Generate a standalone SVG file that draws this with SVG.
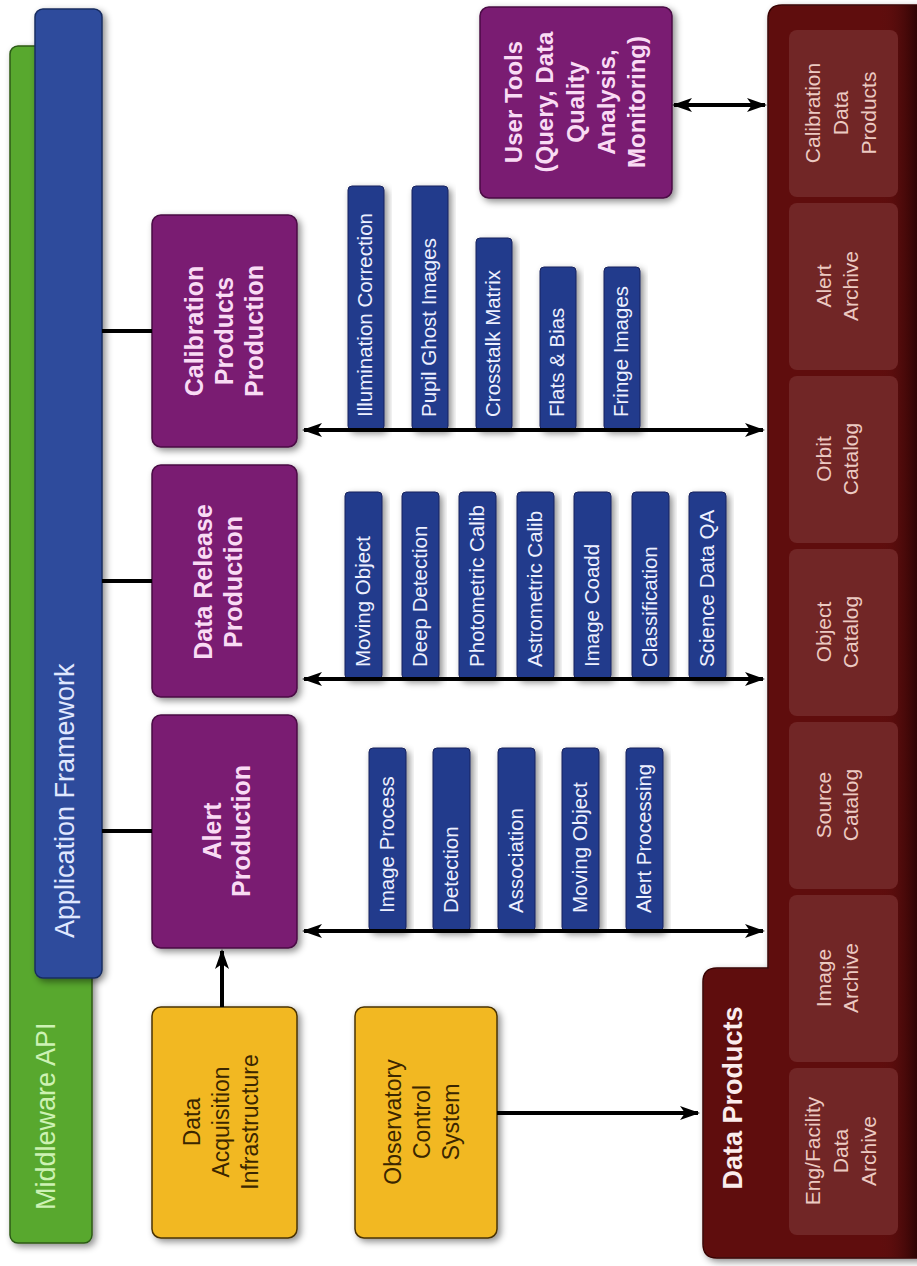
<svg xmlns="http://www.w3.org/2000/svg" width="917" height="1266" viewBox="0 0 917 1266">
<defs>
<filter id="sh" x="-20%" y="-20%" width="140%" height="140%">
<feDropShadow dx="3" dy="3" stdDeviation="3.5" flood-color="#000" flood-opacity="0.45"/>
</filter>
<marker id="ah" viewBox="0 0 20 14" refX="18" refY="7" markerWidth="20" markerHeight="14" markerUnits="userSpaceOnUse" orient="auto-start-reverse">
<path d="M0,0 L20,7 L0,14 L5,7 Z" fill="#000"/>
</marker>
<linearGradient id="edge" x1="0" y1="0" x2="1" y2="0">
<stop offset="0" stop-color="#5f1111" stop-opacity="0"/>
<stop offset="1" stop-color="#2e0303" stop-opacity="1"/>
</linearGradient>
</defs>
<style>
text{font-family:"Liberation Sans",Arial,sans-serif}
.purple{fill:#7a1a72;stroke:#4a0a44;stroke-width:1.5;filter:url(#sh)}
.ptxt{fill:#f9dbf4;font-size:25px;font-weight:bold}
.bar{fill:#243a8c;stroke:#16245e;stroke-width:1;filter:url(#sh)}
.btxt{fill:#edf0ff;font-size:20.5px}
.yel{fill:#f2b820;stroke:#4a3300;stroke-width:1.5;filter:url(#sh)}
.ytxt{fill:#3a2600;font-size:23px}
.dp{fill:#712626}
.dtxt{fill:#eccac2;font-size:21px}
.conn{stroke:#000;stroke-width:4;fill:none}
</style>

<g id="middleware-api">
<rect x="10" y="46" width="82" height="1197" rx="8" fill="#58a82f" stroke="#2c5a16" stroke-width="1.5" filter="url(#sh)"/>
<text transform="translate(0,1210) rotate(-90)" x="0" y="55" fill="#cdf2b4" font-size="27">Middleware API</text>
</g>

<g id="application-framework">
<rect x="35" y="9" width="67" height="969" rx="8" fill="#2d4c9c" stroke="#182c60" stroke-width="1.5" filter="url(#sh)"/>
<text transform="translate(0,938) rotate(-90)" x="0" y="74" fill="#e0e8ff" font-size="27">Application Framework</text>
</g>

<g id="calibration-products-production">
<rect class="purple" x="152" y="215" width="145" height="232" rx="9"/>
<text class="ptxt" transform="translate(0,331) rotate(-90)" text-anchor="middle"><tspan x="0" y="203">Calibration</tspan><tspan x="0" y="233">Products</tspan><tspan x="0" y="263">Production</tspan></text>
</g>

<g id="data-release-production">
<rect class="purple" x="152" y="465" width="145" height="232" rx="9"/>
<text class="ptxt" transform="translate(0,582) rotate(-90)" text-anchor="middle"><tspan x="0" y="212">Data Release</tspan><tspan x="0" y="242">Production</tspan></text>
</g>

<g id="alert-production">
<rect class="purple" x="152" y="715" width="145" height="233" rx="9"/>
<text class="ptxt" transform="translate(0,831) rotate(-90)" text-anchor="middle"><tspan x="0" y="221">Alert</tspan><tspan x="0" y="250">Production</tspan></text>
</g>

<g id="user-tools">
<rect class="purple" x="480" y="7" width="192" height="191" rx="9"/>
<text class="ptxt" style="font-size:24px" transform="translate(0,102) rotate(-90)" text-anchor="middle"><tspan x="0" y="522">User Tools</tspan><tspan x="0" y="553">(Query, Data</tspan><tspan x="0" y="584">Quality</tspan><tspan x="0" y="615">Analysis,</tspan><tspan x="0" y="645">Monitoring)</tspan></text>
</g>

<g id="data-acquisition-infrastructure">
<rect class="yel" x="152" y="1007" width="145" height="231" rx="9"/>
<text class="ytxt" transform="translate(0,1122) rotate(-90)" text-anchor="middle"><tspan x="0" y="200">Data</tspan><tspan x="0" y="229">Acquisition</tspan><tspan x="0" y="258">Infrastructure</tspan></text>
</g>

<g id="observatory-control-system">
<rect class="yel" x="355" y="1007" width="142" height="231" rx="9"/>
<text class="ytxt" transform="translate(0,1122) rotate(-90)" text-anchor="middle"><tspan x="0" y="401">Observatory</tspan><tspan x="0" y="430">Control</tspan><tspan x="0" y="459">System</tspan></text>
</g>

<g id="calibration-modules">
<rect class="bar" x="348" y="186" width="36" height="244" rx="4"/>
<rect class="bar" x="412" y="186" width="36" height="244" rx="4"/>
<rect class="bar" x="476" y="238" width="36" height="192" rx="4"/>
<rect class="bar" x="540" y="267" width="36" height="163" rx="4"/>
<rect class="bar" x="604" y="267" width="36" height="163" rx="4"/>
<text class="btxt" transform="translate(0,417) rotate(-90)" x="0" y="372">Illumination Correction</text>
<text class="btxt" transform="translate(0,417) rotate(-90)" x="0" y="436">Pupil Ghost Images</text>
<text class="btxt" transform="translate(0,417) rotate(-90)" x="0" y="500">Crosstalk Matrix</text>
<text class="btxt" transform="translate(0,417) rotate(-90)" x="0" y="564">Flats &amp; Bias</text>
<text class="btxt" transform="translate(0,417) rotate(-90)" x="0" y="628">Fringe Images</text>
</g>

<g id="data-release-modules">
<rect class="bar" x="345" y="492" width="37" height="187" rx="4"/>
<rect class="bar" x="402" y="492" width="37" height="187" rx="4"/>
<rect class="bar" x="459" y="492" width="37" height="187" rx="4"/>
<rect class="bar" x="517" y="492" width="37" height="187" rx="4"/>
<rect class="bar" x="574" y="492" width="37" height="187" rx="4"/>
<rect class="bar" x="632" y="492" width="37" height="187" rx="4"/>
<rect class="bar" x="689" y="492" width="37" height="187" rx="4"/>
<text class="btxt" transform="translate(0,667) rotate(-90)" x="0" y="370">Moving Object</text>
<text class="btxt" transform="translate(0,667) rotate(-90)" x="0" y="427">Deep Detection</text>
<text class="btxt" transform="translate(0,667) rotate(-90)" x="0" y="484">Photometric Calib</text>
<text class="btxt" transform="translate(0,667) rotate(-90)" x="0" y="542">Astrometric Calib</text>
<text class="btxt" transform="translate(0,667) rotate(-90)" x="0" y="599">Image Coadd</text>
<text class="btxt" transform="translate(0,667) rotate(-90)" x="0" y="657">Classification</text>
<text class="btxt" transform="translate(0,667) rotate(-90)" x="0" y="714">Science Data QA</text>
</g>

<g id="alert-modules">
<rect class="bar" x="369" y="748" width="37" height="183" rx="4"/>
<rect class="bar" x="433" y="748" width="37" height="183" rx="4"/>
<rect class="bar" x="498" y="748" width="37" height="183" rx="4"/>
<rect class="bar" x="562" y="748" width="37" height="183" rx="4"/>
<rect class="bar" x="626" y="748" width="37" height="183" rx="4"/>
<text class="btxt" transform="translate(0,913) rotate(-90)" x="0" y="394">Image Process</text>
<text class="btxt" transform="translate(0,913) rotate(-90)" x="0" y="458">Detection</text>
<text class="btxt" transform="translate(0,913) rotate(-90)" x="0" y="523">Association</text>
<text class="btxt" transform="translate(0,913) rotate(-90)" x="0" y="587">Moving Object</text>
<text class="btxt" transform="translate(0,913) rotate(-90)" x="0" y="651">Alert Processing</text>
</g>

<g id="data-products">
<path d="M782,5 H935 V1258 H717 Q703,1258 703,1244 V982 Q703,968 717,968 H768 V19 Q768,5 782,5 Z" fill="#5f1111" stroke="#3a0606" stroke-width="1.5" filter="url(#sh)"/>
<rect x="880" y="5" width="37" height="1253" fill="url(#edge)"/>
<text transform="translate(0,1098) rotate(-90)" x="0" y="742" text-anchor="middle" fill="#fbecec" font-size="27" font-weight="bold">Data Products</text>
<rect class="dp" x="789" y="30" width="109" height="167" rx="8"/>
<rect class="dp" x="789" y="203" width="109" height="167" rx="8"/>
<rect class="dp" x="789" y="376" width="109" height="167" rx="8"/>
<rect class="dp" x="789" y="549" width="109" height="167" rx="8"/>
<rect class="dp" x="789" y="722" width="109" height="167" rx="8"/>
<rect class="dp" x="789" y="895" width="109" height="167" rx="8"/>
<rect class="dp" x="789" y="1068" width="109" height="167" rx="8"/>
<text class="dtxt" transform="translate(0,113) rotate(-90)" text-anchor="middle"><tspan x="0" y="820">Calibration</tspan><tspan x="0" y="848">Data</tspan><tspan x="0" y="876">Products</tspan></text>
<text class="dtxt" transform="translate(0,286) rotate(-90)" text-anchor="middle"><tspan x="0" y="831">Alert</tspan><tspan x="0" y="858">Archive</tspan></text>
<text class="dtxt" transform="translate(0,459) rotate(-90)" text-anchor="middle"><tspan x="0" y="831">Orbit</tspan><tspan x="0" y="858">Catalog</tspan></text>
<text class="dtxt" transform="translate(0,632) rotate(-90)" text-anchor="middle"><tspan x="0" y="831">Object</tspan><tspan x="0" y="858">Catalog</tspan></text>
<text class="dtxt" transform="translate(0,805) rotate(-90)" text-anchor="middle"><tspan x="0" y="831">Source</tspan><tspan x="0" y="858">Catalog</tspan></text>
<text class="dtxt" transform="translate(0,978) rotate(-90)" text-anchor="middle"><tspan x="0" y="831">Image</tspan><tspan x="0" y="858">Archive</tspan></text>
<text class="dtxt" transform="translate(0,1151) rotate(-90)" text-anchor="middle"><tspan x="0" y="820">Eng/Facility</tspan><tspan x="0" y="848">Data</tspan><tspan x="0" y="876">Archive</tspan></text>
</g>

<g id="connectors">
<line class="conn" x1="102" y1="331" x2="152" y2="331"/>
<line class="conn" x1="102" y1="581" x2="152" y2="581"/>
<line class="conn" x1="102" y1="831" x2="152" y2="831"/>
<line class="conn" x1="304" y1="430" x2="763" y2="430" marker-start="url(#ah)" marker-end="url(#ah)"/>
<line class="conn" x1="304" y1="679" x2="763" y2="679" marker-start="url(#ah)" marker-end="url(#ah)"/>
<line class="conn" x1="304" y1="931" x2="763" y2="931" marker-start="url(#ah)" marker-end="url(#ah)"/>
<line class="conn" x1="674" y1="105" x2="765" y2="105" marker-start="url(#ah)" marker-end="url(#ah)"/>
<line class="conn" x1="222" y1="1007" x2="222" y2="951" marker-end="url(#ah)"/>
<line class="conn" x1="497" y1="1113" x2="698" y2="1113" marker-end="url(#ah)"/>
</g>
</svg>
